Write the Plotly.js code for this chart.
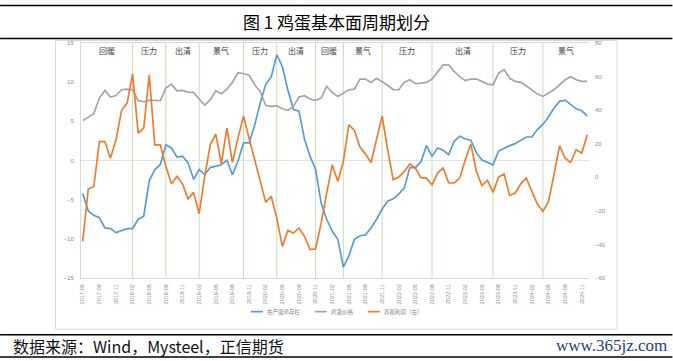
<!DOCTYPE html>
<html>
<head>
<meta charset="utf-8">
<script src="https://cdn.plot.ly/plotly-3.0.1.min.js"></script>
<style>
html,body{margin:0;padding:0;background:#fff;}
#chart{width:673px;height:361px;}
</style>
</head>
<body>
<div id="chart"></div>
<script>
var months = ['2017-05','2017-06','2017-07','2017-08','2017-09','2017-10','2017-11','2017-12',
'2018-01','2018-02','2018-03','2018-04','2018-05','2018-06','2018-07','2018-08','2018-09','2018-10','2018-11','2018-12',
'2019-01','2019-02','2019-03','2019-04','2019-05','2019-06','2019-07','2019-08','2019-09','2019-10','2019-11','2019-12',
'2020-01','2020-02','2020-03','2020-04','2020-05','2020-06','2020-07','2020-08','2020-09','2020-10','2020-11','2020-12',
'2021-01','2021-02','2021-03','2021-04','2021-05','2021-06','2021-07','2021-08','2021-09','2021-10','2021-11','2021-12',
'2022-01','2022-02','2022-03','2022-04','2022-05','2022-06','2022-07','2022-08','2022-09','2022-10','2022-11','2022-12',
'2023-01','2023-02','2023-03','2023-04','2023-05','2023-06','2023-07','2023-08','2023-09','2023-10','2023-11','2023-12',
'2024-01','2024-02','2024-03','2024-04','2024-05','2024-06','2024-07','2024-08','2024-09','2024-10','2024-11','2024-12'];

// 在产蛋鸡存栏 (left axis)
var layingHens = [-4.2,-6.45,-7.0,-7.3,-8.6,-8.7,-9.2,-9.0,-8.7,-8.7,-7.5,-7.1,
-2.6,-1.15,-0.5,2.0,1.6,0.45,0.55,-0.3,-2.4,-1.15,-1.8,-0.9,
-0.7,-0.55,0.05,-1.8,-0.1,2.25,2.25,4.5,7.3,9.7,10.7,13.5,
12.0,9.0,6.5,6.3,2.7,0.55,-1.15,-5.4,-7.5,-9.0,-10.05,-13.6,
-12.2,-10.05,-9.6,-9.5,-8.6,-7.5,-6.2,-5.2,-4.9,-4.3,-3.5,-0.9,
-0.9,-0.15,1.9,0.55,1.6,1.3,0.75,2.45,3.1,2.75,2.6,1.0,
0.05,-0.2,-0.55,1.2,1.6,1.9,2.15,2.6,3.0,3.0,3.95,4.6,
5.55,6.7,7.55,7.7,7.2,6.6,6.35,5.7];

// 鸡蛋价格 (left axis)
var eggPrice = [5.09,5.55,5.98,7.97,8.95,8.1,8.3,9.03,9.1,9.03,7.67,7.5,
7.67,7.67,7.63,9.25,9.75,8.9,8.95,8.73,8.7,7.85,7.08,7.76,
8.9,8.52,9.1,9.97,11.2,11.07,10.9,9.67,8.82,7.04,6.91,7.0,
6.6,6.4,6.91,8.1,8.27,7.85,7.67,7.97,9.45,8.7,8.18,8.6,
9.03,9.1,10.4,10.4,9.97,10.5,10.1,9.6,9.03,9.03,10.0,10.3,
9.8,9.88,9.97,10.4,11.36,12.2,12.2,11.36,10.7,10.2,10.4,10.4,
10.1,9.75,9.67,11.15,11.6,10.5,10.1,9.97,9.54,9.03,8.48,8.18,
8.6,9.03,9.67,10.3,10.7,10.3,10.1,10.1];

// 养殖利润（右）
var profit = [-38.2,-7.0,-5.5,21.3,21.3,11.4,22.3,39.8,44.2,61.6,26.3,29.3,
61.0,19.3,19.3,6.4,-3.9,0.5,-3.9,-12.8,-9.0,-21.7,0.5,19.3,
25.7,8.0,29.3,8.8,23.3,36.6,23.3,10.5,-1.5,-14.8,-11.4,-24.3,
-41.2,-31.7,-33.2,-30.2,-35.2,-43.1,-42.7,-27.3,-9.4,7.4,-2.5,9.4,
31.3,27.9,18.0,13.8,8.8,22.3,36.6,16.4,-1.5,0.1,3.5,7.9,
5.5,-0.2,-0.5,-4.5,2.5,5.5,-3.4,-3.4,-0.5,10.4,19.8,3.5,
-4.9,-1.9,-9.0,0.1,1.9,-10.8,-9.4,-3.9,-0.5,-8.4,-15.9,-20.3,
-14.4,1.5,18.8,11.4,8.8,16.4,14.4,25.3];

var seriesNames = ['在产蛋鸡存栏','鸡蛋价格','养殖利润（右）'];
var seriesColors = ['#5B9BD5','#A5A5A5','#ED7D31'];

var phaseNames = ['回暖','压力','出清','景气','压力','出清','回暖','景气','压力','出清','压力','景气'];
var phaseBounds = ['2018-02','2018-08','2019-02','2019-10','2020-04','2020-11','2021-04','2021-11','2022-08','2023-07','2024-04'];

var tickLabels = months.filter(function(m,i){return i%3===0;});

var leftTicks = [15,10,5,0,-5,-10,-15];
var rightTicks = [80,60,40,20,0,-20,-40,-60];

var titleText = '图 1 鸡蛋基本面周期划分';
var sourceText = '数据来源：Wind，Mysteel，正信期货';
var siteText = 'www.365jz.com';

// ---- geometry helpers (pixel -> paper) ----
var L = 81, R = 589.5, T = 43, B = 278.3, W = 673, H = 361;
function px(x){ return (x - L)/(R - L); }
function py(y){ return (B - y)/(B - T); }

var xRange = [-0.31, 91.31];

var traces = [
  {x: months, y: layingHens, name: seriesNames[0], type:'scatter', mode:'lines',
   line:{color:seriesColors[0], width:1.7}, yaxis:'y'},
  {x: months, y: eggPrice, name: seriesNames[1], type:'scatter', mode:'lines',
   line:{color:seriesColors[1], width:1.7}, yaxis:'y'},
  {x: months, y: profit, name: seriesNames[2], type:'scatter', mode:'lines',
   line:{color:seriesColors[2], width:1.7}, yaxis:'y2'}
];

var shapes = [];
var annotations = [];

// phase separators
var bIdx = phaseBounds.map(function(b){ return months.indexOf(b); });
bIdx.forEach(function(ix){
  shapes.push({type:'line', xref:'x', yref:'paper', x0:ix, x1:ix, y0:0, y1:1,
    line:{color:'#C5DFB3', width:1}, layer:'below'});
});
var edges = [xRange[0]].concat(bIdx).concat([xRange[1]]);
phaseNames.forEach(function(n,k){
  annotations.push({xref:'x', yref:'paper', x:(edges[k]+edges[k+1])/2, y:py(51),
    text:n, showarrow:false, xanchor:'center', yanchor:'middle',
    font:{family:'Noto Sans CJK SC', size:8, color:'#404040'}});
});

// page frame lines
[5.5, 38.5, 335, 357.5].forEach(function(y){
  shapes.push({type:'line', xref:'paper', yref:'paper', x0:px(0), x1:px(W), y0:py(y), y1:py(y),
    line:{color:'#000000', width:1.5}});
});
// chart box
shapes.push({type:'rect', xref:'paper', yref:'paper', x0:px(55.5), x1:px(617.5), y0:py(329.5), y1:py(40.5),
  line:{color:'#D9D9D9', width:1}, layer:'below'});

// manual legend
var legX = [[251,263,265],[315,327,329],[368,380,382]];
seriesNames.forEach(function(n,k){
  shapes.push({type:'line', xref:'paper', yref:'paper', x0:px(legX[k][0]), x1:px(legX[k][1]),
    y0:py(312), y1:py(312), line:{color:seriesColors[k], width:1.7}});
  annotations.push({xref:'paper', yref:'paper', x:px(legX[k][2]), y:py(312), text:n,
    showarrow:false, xanchor:'left', yanchor:'middle',
    font:{family:'Noto Sans CJK SC', size:5.5, color:'#7f7f7f'}});
});

// title, source, site
annotations.push({xref:'paper', yref:'paper', x:px(337), y:py(21), text:titleText, showarrow:false,
  xanchor:'center', yanchor:'middle', font:{family:'Noto Sans CJK SC', size:17, color:'#000'}});
annotations.push({xref:'paper', yref:'paper', x:px(11), y:py(346), text:sourceText, showarrow:false,
  xanchor:'left', yanchor:'middle', font:{family:'Noto Sans CJK SC', size:16, color:'#111'}});
annotations.push({xref:'paper', yref:'paper', x:px(670), y:py(346), text:siteText, showarrow:false,
  xanchor:'right', yanchor:'middle', font:{family:'Liberation Serif', size:17, color:'#1F3F7A'}});

var layout = {
  width: W, height: H,
  margin:{l:L, r:W-R, t:T, b:H-B, autoexpand:false},
  paper_bgcolor:'#ffffff', plot_bgcolor:'#ffffff',
  showlegend:false,
  xaxis:{type:'category', range:xRange, tickmode:'array', tickvals:tickLabels, ticktext:tickLabels,
    tickangle:-90, tickfont:{family:'Liberation Sans', size:5.5, color:'#8c8c8c'},
    showgrid:false, zeroline:false, showline:true, linecolor:'#D9D9D9', linewidth:1, mirror:true,
    ticks:'', ticklabelstandoff:3},
  yaxis:{range:[-15,15], tickmode:'array', tickvals:leftTicks,
    tickfont:{family:'Liberation Sans', size:6, color:'#8c8c8c'},
    showgrid:false, zeroline:true, zerolinecolor:'#E3E3E3', zerolinewidth:1,
    showline:true, linecolor:'#D9D9D9', linewidth:1, ticks:'', ticklabelstandoff:5},
  yaxis2:{range:[-60,80], tickmode:'array', tickvals:rightTicks, overlaying:'y', side:'right',
    tickfont:{family:'Liberation Sans', size:6, color:'#8c8c8c'},
    showgrid:false, zeroline:false, showline:false, ticks:'', ticklabelstandoff:5},
  shapes: shapes,
  annotations: annotations
};

Plotly.newPlot('chart', traces, layout, {displayModeBar:false, staticPlot:true});
</script>
</body>
</html>
